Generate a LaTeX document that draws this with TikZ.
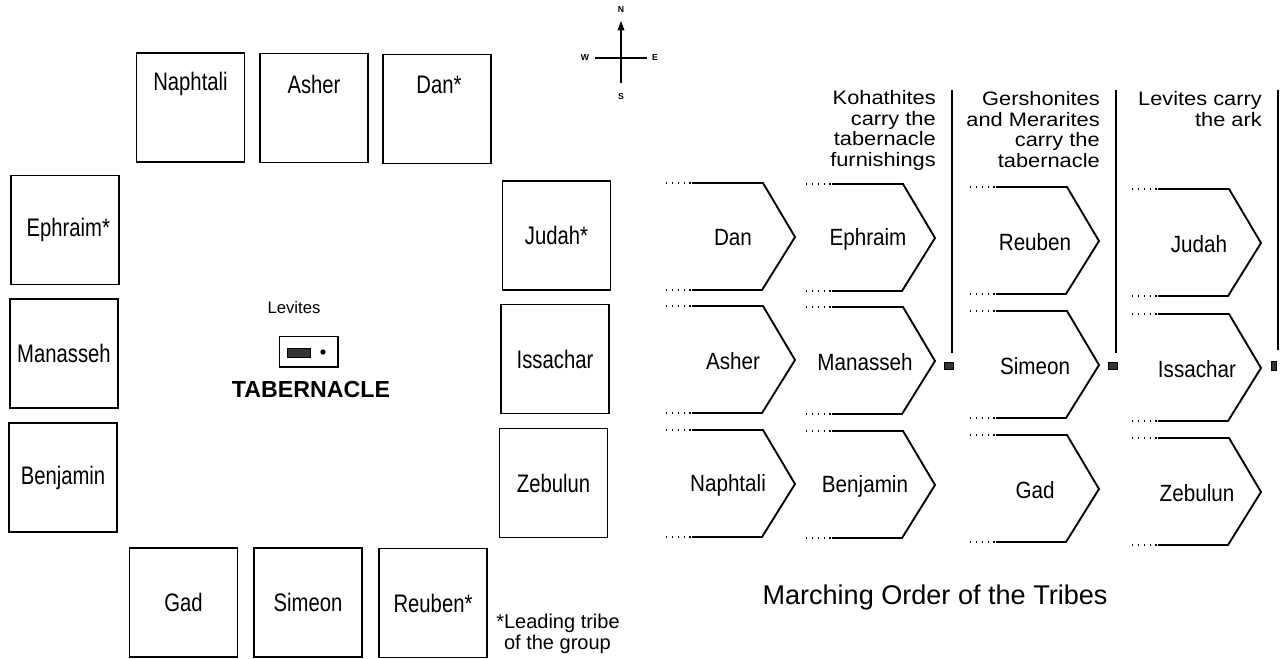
\documentclass[tikz,border=0pt]{standalone}
\usepackage{fontspec}
\setmainfont{Liberation Sans}
\newfontfamily\narrowfont[FakeStretch=0.8]{Liberation Sans}
\newfontfamily\chevfont[FakeStretch=0.88]{Liberation Sans}
\newfontfamily\widefont[FakeStretch=1.12]{Liberation Sans}
\usetikzlibrary{arrows.meta}
\tikzset{
  tribebox/.style={draw, line width=1.2pt, minimum width=81pt, minimum height=82pt, inner sep=0pt},
  tribelbl/.style={font=\narrowfont\fontsize{19pt}{22pt}\selectfont, inner sep=0pt},
  chevline/.style={line width=1.4pt, line join=miter},
  dotline/.style={line width=1.1pt, dash pattern=on 1.1pt off 3.3pt},
  chevlbl/.style={font=\chevfont\fontsize{17.6pt}{20pt}\selectfont, inner sep=0pt},
  header/.style={font=\widefont\fontsize{14.6pt}{15.6pt}\selectfont, align=right, inner sep=0pt},
  sepline/.style={line width=0.9pt},
  icon/.style={fill=black!80, draw=black, line width=0.4pt},
  compasslbl/.style={font=\bfseries\fontsize{6.5pt}{7pt}\selectfont, inner sep=0pt}
}
\newcommand{\mychev}[5]{%
  \draw[dotline] (#1-26,#2) -- (#1,#2);
  \draw[dotline] (#1-26,#2+107) -- (#1,#2+107);
  \draw[chevline] (#1,#2) -- (#1+71,#2) -- (#1+103,#2+54) -- (#1+70,#2+107) -- (#1,#2+107);
  \node[chevlbl] (#3) at (#5,#2+55) {#4};
}
\begin{document}
\begin{tikzpicture}[x=0.75pt,y=-0.75pt]
\fill[white] (0,0) rectangle (1287,659);
\useasboundingbox (0,0) rectangle (1287,659);

% compass
\coordinate (cs) at (621,83);
\coordinate (cn) at (621,21);
\coordinate (cw) at (595,58);
\coordinate (ce) at (647,58);
\draw[line width=0.9pt, -{Triangle[length=7pt,width=5pt]}] (cs) -- (cn);
\draw[line width=0.9pt] (cw) -- (ce);
\node[compasslbl] (N) at (621,10) {N};
\node[compasslbl] (S) at (621,97) {S};
\node[compasslbl] (W) at (585,58) {W};
\node[compasslbl] (E) at (655,58) {E};

% camp: top row
\node[tribebox] (naph) at (190.5,107.5) {};
\node[tribelbl] (naphT) at (190.5,84) {Naphtali};
\node[tribebox] (ash) at (314,108) {};
\node[tribelbl] (ashT) at (314,84) {Asher};
\node[tribebox] (dan) at (437,109) {};
\node[tribelbl] (danT) at (439,85) {Dan*};
% left column
\node[tribebox, tribelbl] (eph) at (65,230) {\hspace*{5pt}Ephraim*};
\node[tribebox, tribelbl] (man) at (64,353.5) {Manasseh};
\node[tribebox, tribelbl] (ben) at (63,477.5) {Benjamin};
% right column
\node[tribebox, tribelbl] (jud) at (556.5,235.5) {Judah*};
\node[tribebox, tribelbl] (iss) at (555,359) {Issachar};
\node[tribebox, tribelbl] (zeb) at (553.5,483) {Zebulun};
% bottom row
\node[tribebox, tribelbl] (gad) at (183.5,602.5) {Gad};
\node[tribebox, tribelbl] (sim) at (308,602.5) {Simeon};
\node[tribebox, tribelbl] (reu) at (433,603) {Reuben*};

% tabernacle
\node[font=\fontsize{12.5pt}{13pt}\selectfont, inner sep=0pt] (lev) at (294,308) {Levites};
\node[draw, line width=1pt, minimum width=44pt, minimum height=23pt, inner sep=0pt] (tab) at (308.5,351.5) {};
\node[icon, minimum width=17pt, minimum height=6.5pt, inner sep=0pt] (tabin) at (298.5,352.5) {};
\node[circle, fill=black, minimum size=4pt, inner sep=0pt] (tabdot) at (323,352) {};
\node[font=\bfseries\fontsize{17.4pt}{20pt}\selectfont, inner sep=0pt] (tabT) at (311,390) {TABERNACLE};

% footnote
\node[font=\fontsize{15pt}{15.5pt}\selectfont, align=left, anchor=north west, inner sep=0pt] (note) at (496,614) {*Leading tribe\\\hphantom{*}of the group};

% marching order
\mychev{692}{183}{c11}{Dan}{733}
\mychev{832}{184}{c12}{Ephraim}{868}
\mychev{996}{187}{c13}{Reuben}{1035}
\mychev{1158}{189}{c14}{Judah}{1199}
\mychev{692}{306}{c21}{Asher}{733}
\mychev{832}{307}{c22}{Manasseh}{865}
\mychev{996}{311}{c23}{Simeon}{1035}
\mychev{1158}{314}{c24}{Issachar}{1197}
\mychev{692}{430}{c31}{Naphtali}{728}
\mychev{832}{431}{c32}{Benjamin}{865}
\mychev{996}{435}{c33}{Gad}{1035}
\mychev{1158}{438}{c34}{Zebulun}{1197}

% separators and icons
\coordinate (l1t) at (952,90);
\coordinate (l1b) at (952,353);
\coordinate (l2t) at (1116,90);
\coordinate (l2b) at (1116,353);
\coordinate (l3t) at (1278,90);
\coordinate (l3b) at (1278,350);
\draw[sepline] (l1t) -- (l1b);
\draw[sepline] (l2t) -- (l2b);
\draw[sepline] (l3t) -- (l3b);
\node[icon, minimum width=7pt, minimum height=5.5pt, inner sep=0pt] (ic1) at (949,366) {};
\node[icon, minimum width=7pt, minimum height=5.5pt, inner sep=0pt] (ic2) at (1113,366) {};
\node[icon, minimum width=3.5pt, minimum height=7pt, inner sep=0pt] (ic3) at (1274,366) {};

\node[header, anchor=north east] (h1) at (936,90) {Kohathites\\carry the\\tabernacle\\furnishings};
\node[header, anchor=north east] (h2) at (1100,91) {Gershonites\\and Merarites\\carry the\\tabernacle};
\node[header, anchor=north east] (h3) at (1262,91) {Levites carry\\the ark};

\node[font=\fontsize{20.3pt}{24pt}\selectfont, inner sep=0pt] (title) at (935,597) {Marching Order of the Tribes};
\end{tikzpicture}
\end{document}
